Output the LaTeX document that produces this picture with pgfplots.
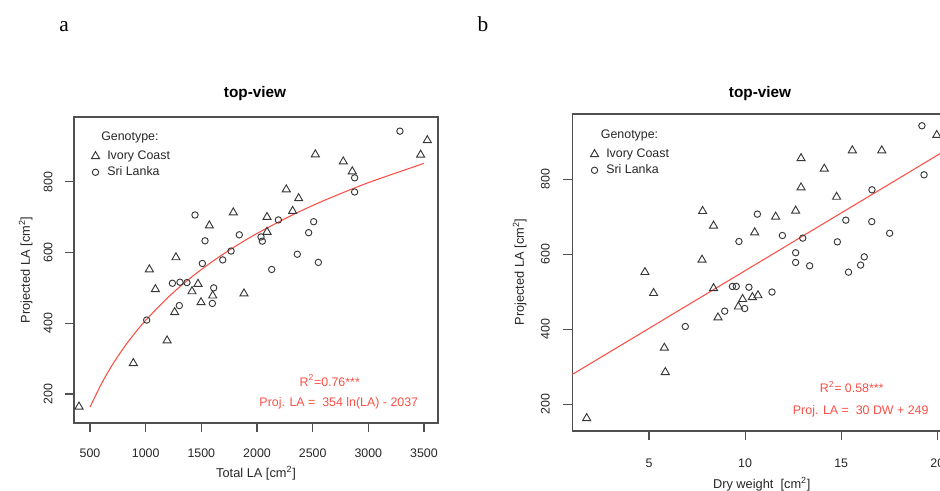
\documentclass[border=0pt]{standalone}
\usepackage{pgfplots}
\pgfplotsset{compat=1.18}
\usepackage{fontspec}
\setmainfont{Liberation Sans}
\newfontfamily\seriffont{Liberation Serif}
\definecolor{fitred}{RGB}{250,80,70}
\definecolor{mk}{RGB}{55,55,55}
\definecolor{ax}{RGB}{80,80,80}

\pgfplotstableread{
x y
401 164
889 287
1192 351
1260 431
1033 552
1087 496
1272 586
1416 490
1470 511
1497 459
1602 478
1572 676
1787 713
1883 484
2090 700
2090 658
2263 778
2320 717
2374 753
2524 877
2775 857
2856 829
3470 876
3530 917
}\ivoryA
\pgfplotstableread{
x y
1009 409
1240 513
1308 516
1371 515
1302 450
1443 706
1533 633
1509 569
1611 500
1599 456
1692 579
1767 604
1841 650
2036 644
2048 632
2132 552
2192 692
2362 595
2464 656
2509 687
2551 572
2877 811
2877 771
3284 943
}\sriA
\pgfplotstableread{
x y
1.76 162
4.79 552
5.24 496
5.80 350
5.85 285
7.79 715
7.76 585
8.36 676
8.36 509
8.59 431
9.65 460
9.87 480
10.38 485
10.67 490
10.50 658
11.59 700
12.63 716
12.91 856
12.91 778
14.12 828
14.76 753
15.58 877
17.11 877
19.97 918
}\ivoryB
\pgfplotstableread{
x y
6.89 407
8.94 448
9.34 514
9.54 514
9.68 634
9.98 455
10.20 512
10.64 707
11.40 499
11.94 650
12.63 604
12.63 578
13.00 643
13.36 569
14.80 633
15.24 691
15.38 552
16.01 571
16.20 593
16.60 772
16.59 687
17.52 656
19.20 943
19.31 812
}\sriB
\pgfplotstableread{
x y
500 163.0
600 227.5
700 282.1
800 329.3
900 371.0
1000 408.3
1200 472.9
1400 527.5
1600 574.7
1800 616.4
2000 653.7
2300 703.2
2600 746.6
3000 797.3
3500 851.8
}\fitA
\pgfplotstableread{
x y
1.01 279
21.0 895
}\fitB

\pgfplotsset{
  rstyle/.style={
    scale only axis,
    axis line style={draw=ax, line width=0.8pt},
    tick align=outside,
    major tick length=6.75pt,
    tick style={draw=ax, line width=0.8pt},
    xtick pos=bottom, ytick pos=left,
    /pgf/number format/assume math mode=true,
    /pgf/number format/1000 sep={},
    ticklabel style={font=\fontsize{9.3}{11}\selectfont, text=black!85},
    label style={font=\fontsize{9.6}{11}\selectfont, text=black!85},
    xticklabel style={anchor=north, inner sep=0pt},
    yticklabel style={rotate=90, anchor=south, inner sep=0pt},
    ytick={200,400,600,800},
    legend style={draw=none, fill=none, inner sep=0pt, row sep=0pt,
      font=\fontsize{9.3}{11}\selectfont,
      nodes={inner sep=1.5pt, text height=7pt, text depth=2pt, text=black!85}},
    legend cell align=left,
  },
  ivory/.style={only marks, mark=triangle, mark size=3.5pt,
    mark options={draw=mk, line width=0.7pt, fill=none},
    legend image code/.code={\path (0cm,0cm) (0.45cm,0cm); \draw[##1] plot coordinates {(0.2cm,0cm)};}},
  sri/.style={only marks, mark=o, mark size=2.4pt,
    mark options={draw=mk, line width=0.7pt, fill=none},
    legend image code/.code={\path (0cm,0cm) (0.45cm,0cm); \draw[##1] plot coordinates {(0.2cm,0cm)};}},
}

\begin{document}
\begin{tikzpicture}
\path[use as bounding box] (0,0) rectangle (705pt,367.5pt);
\clip (0,0) rectangle (705pt,367.5pt);

% panel letters and titles
\node[anchor=base, inner sep=0pt, font=\seriffont\fontsize{16}{18}\selectfont] at (48pt,343.7pt) {a};
\node[anchor=base, inner sep=0pt, font=\seriffont\fontsize{16}{18}\selectfont] at (362.25pt,343.7pt) {b};
\node[anchor=base, inner sep=0pt, font=\bfseries\fontsize{11.5}{13}\selectfont] at (191.25pt,294pt) {top-view};
\node[anchor=base, inner sep=0pt, font=\bfseries\fontsize{11.5}{13}\selectfont] at (570pt,294pt) {top-view};

% panel a
\begin{axis}[rstyle,
  at={(55.5pt,50.25pt)}, anchor=south west,
  width=273pt, height=229.5pt,
  xmin=356, xmax=3626, ymin=118, ymax=983,
  xtick={500,1000,...,3500},
  xticklabel shift=12.75pt,
  yticklabel shift=9.25pt,
  xlabel={Total LA [cm\textsuperscript{2}]},
  ylabel={Projected LA [cm\textsuperscript{2}]},
  xlabel style={at={(axis description cs:0.5,-0.1765)}, anchor=base, inner sep=0pt},
  ylabel style={at={(axis description cs:-0.1209,0.5)}, anchor=base, inner sep=0pt, rotate=0},
  legend style={at={(0.0368,0.8987)}, anchor=north west},
]
\addplot[ivory] table {\ivoryA};
\addlegendentry{Ivory Coast}
\addplot[sri] table {\sriA};
\addlegendentry{Sri Lanka}
\addplot[fitred, line width=0.8pt, smooth, forget plot] table {\fitA};
\node[anchor=base west, inner sep=0pt, font=\fontsize{9.3}{11}\selectfont, text=black!85] at (rel axis cs:0.0742,0.9248) {Genotype:};
\node[anchor=base, inner sep=0pt, font=\fontsize{9.3}{11}\selectfont, text=fitred] at (rel axis cs:0.7025,0.1209) {R\textsuperscript{2}=0.76***};
\node[anchor=base, inner sep=0pt, font=\fontsize{9.3}{11}\selectfont, text=fitred] at (rel axis cs:0.7275,0.0533) {Proj. LA =\ \ 354 ln(LA) - 2037};
\end{axis}

% panel b
\begin{axis}[rstyle,
  at={(429.2pt,44.25pt)}, anchor=south west,
  width=288.2pt, height=237.75pt,
  xmin=1.01, xmax=21.0, ymin=128, ymax=974.4,
  xtick={5,10,15,20},
  xticklabel shift=14.25pt,
  yticklabel shift=9.95pt,
  xlabel={Dry weight\ \ [cm\textsuperscript{2}]},
  ylabel={Projected LA [cm\textsuperscript{2}]},
  xlabel style={at={(axis description cs:0.493,-0.1808)}, anchor=base, inner sep=0pt},
  ylabel style={at={(axis description cs:-0.1257,0.5016)}, anchor=base, inner sep=0pt, rotate=0},
  legend style={at={(0.0368,0.899)}, anchor=north west},
]
\addplot[ivory] table {\ivoryB};
\addlegendentry{Ivory Coast}
\addplot[sri] table {\sriB};
\addlegendentry{Sri Lanka}
\addplot[fitred, line width=0.8pt, forget plot] table {\fitB};
\node[anchor=base west, inner sep=0pt, font=\fontsize{9.3}{11}\selectfont, text=black!85] at (rel axis cs:0.0739,0.9233) {Genotype:};
\node[anchor=base, inner sep=0pt, font=\fontsize{9.3}{11}\selectfont, text=fitred] at (rel axis cs:0.7272,0.1208) {R\textsuperscript{2}= 0.58***};
\node[anchor=base, inner sep=0pt, font=\fontsize{9.3}{11}\selectfont, text=fitred] at (rel axis cs:0.7507,0.0527) {Proj. LA =\ \ 30 DW + 249};
\end{axis}
\end{tikzpicture}
\end{document}
